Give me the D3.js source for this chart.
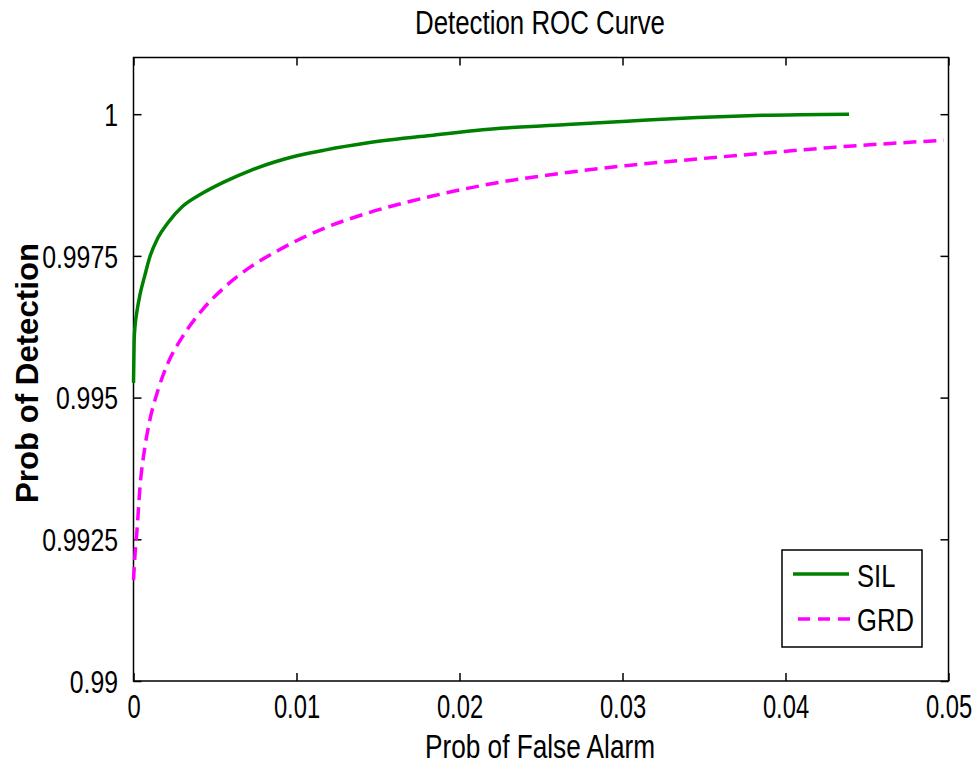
<!DOCTYPE html>
<html>
<head>
<meta charset="utf-8">
<script src="https://cdn.jsdelivr.net/npm/d3@7"></script>
<style>
  html, body { margin: 0; padding: 0; background: #fff; }
  svg { display: block; font-family: "Liberation Sans", Arial, sans-serif; }
</style>
</head>
<body>
<svg id="chart" width="977" height="765"></svg>
<script>
// ---- data ----
const title = "Detection ROC Curve";
const xLabel = "Prob of False Alarm";
const yLabel = "Prob of Detection";
const xTicks = [0, 0.01, 0.02, 0.03, 0.04, 0.05];
const xTickLabels = ["0", "0.01", "0.02", "0.03", "0.04", "0.05"];
const yTicks = [0.99, 0.9925, 0.995, 0.9975, 1];
const yTickLabels = ["0.99", "0.9925", "0.995", "0.9975", "1"];
const seriesNames = ["SIL", "GRD"];

const silPfa = [0, 0.00004, 0.0001, 0.0002, 0.0004, 0.0007, 0.001, 0.0015, 0.0021, 0.003, 0.0042, 0.0056, 0.0072, 0.0087, 0.0101, 0.0118, 0.0143, 0.0184, 0.0225, 0.0266, 0.0305, 0.0346, 0.0386, 0.0439];
const silPd  = [0.99526, 0.99600, 0.99628, 0.99650, 0.99682, 0.99716, 0.99748, 0.99782, 0.99808, 0.99837, 0.9986, 0.99881, 0.99901, 0.99916, 0.99927, 0.99937, 0.99949, 0.99963, 0.99975, 0.99982, 0.99988, 0.99994, 0.99998, 1.0];

const grdPfa = [0, 0.0001, 0.0002, 0.0004, 0.0007, 0.001, 0.0015, 0.0021, 0.003, 0.0042, 0.0056, 0.0072, 0.0089, 0.0103, 0.0118, 0.0143, 0.0184, 0.0225, 0.0266, 0.0305, 0.0346, 0.0386, 0.0427, 0.0468, 0.0497];
const grdPd  = [0.99178, 0.99226, 0.99260, 0.99343, 0.99413, 0.9946, 0.99513, 0.9956, 0.99607, 0.99654, 0.99695, 0.99731, 0.9976, 0.99781, 0.99800, 0.99825, 0.99856, 0.99880, 0.99897, 0.9991, 0.99921, 0.99931, 0.99941, 0.99949, 0.99954];

// ---- layout ----
const svg = d3.select("#chart");
const L = 133.5, R = 948.5, T = 57.5, B = 681;
const x = d3.scaleLinear().domain([0, 0.05]).range([L, R]);
const y = d3.scaleLinear().domain([0.99, 1.001]).range([B, T]);

// frame
svg.append("rect").attr("x", L).attr("y", T).attr("width", R - L).attr("height", B - T)
  .attr("fill", "none").attr("stroke", "#000").attr("stroke-width", 1.5);

// axes
const gx = svg.append("g").attr("transform", `translate(0,${B})`)
  .call(d3.axisBottom(x).tickValues(xTicks).tickSize(-8).tickFormat((d, i) => xTickLabels[i]));
const gxt = svg.append("g").attr("transform", `translate(0,${T})`)
  .call(d3.axisTop(x).tickValues(xTicks).tickSize(-8).tickFormat(""));
const gy = svg.append("g").attr("transform", `translate(${L},0)`)
  .call(d3.axisLeft(y).tickValues(yTicks).tickSize(-8).tickFormat((d, i) => yTickLabels[i]));
const gyr = svg.append("g").attr("transform", `translate(${R},0)`)
  .call(d3.axisRight(y).tickValues(yTicks).tickSize(-8).tickFormat(""));

[gx, gxt, gy, gyr].forEach(g => {
  g.select(".domain").remove();
  g.selectAll(".tick line").attr("stroke", "#000").attr("stroke-width", 1.5);
});

gx.selectAll(".tick text")
  .attr("y", 37).attr("dy", null)
  .attr("font-size", 33).attr("fill", "#000")
  .attr("font-family", "Liberation Sans, Arial, sans-serif")
  .attr("transform", "scale(0.72,1)");

gy.selectAll(".tick text")
  .attr("x", -19.4).attr("dy", "0.36em")
  .attr("font-size", 31).attr("fill", "#000")
  .attr("font-family", "Liberation Sans, Arial, sans-serif")
  .attr("transform", "scale(0.8,1)");

// title and axis labels
svg.append("text").attr("x", 540).attr("y", 34).attr("text-anchor", "middle")
  .attr("font-size", 33).attr("textLength", 250).attr("lengthAdjust", "spacingAndGlyphs")
  .text(title);
svg.append("text").attr("x", 540).attr("y", 758).attr("text-anchor", "middle")
  .attr("font-size", 33).attr("textLength", 230).attr("lengthAdjust", "spacingAndGlyphs")
  .text(xLabel);
svg.append("text").attr("transform", "translate(38,373) rotate(-90)").attr("text-anchor", "middle")
  .attr("font-size", 32).attr("font-weight", "bold")
  .attr("textLength", 260).attr("lengthAdjust", "spacingAndGlyphs")
  .text(yLabel);

// curves
const line = d3.line().x(d => x(d[0])).y(d => y(d[1])).curve(d3.curveMonotoneX);
const silData = silPfa.map((v, i) => [v, silPd[i]]);
const grdData = grdPfa.map((v, i) => [v, grdPd[i]]);

svg.append("path").datum(grdData).attr("d", line)
  .attr("fill", "none").attr("stroke", "#ff00ff").attr("stroke-width", 3.5)
  .attr("stroke-dasharray", "13,7");
svg.append("path").datum(silData).attr("d", line)
  .attr("fill", "none").attr("stroke", "#008000").attr("stroke-width", 3.5);

// legend
const lg = svg.append("g");
lg.append("rect").attr("x", 782).attr("y", 550).attr("width", 140).attr("height", 97)
  .attr("fill", "#fff").attr("stroke", "#000").attr("stroke-width", 1.5);
lg.append("line").attr("x1", 793).attr("x2", 849).attr("y1", 574).attr("y2", 574)
  .attr("stroke", "#008000").attr("stroke-width", 3.5);
lg.append("line").attr("x1", 798).attr("x2", 850).attr("y1", 619).attr("y2", 619)
  .attr("stroke", "#ff00ff").attr("stroke-width", 3.5).attr("stroke-dasharray", "12,8");
lg.append("text").attr("transform", "translate(857,587) scale(0.8,1)")
  .attr("font-size", 32).text(seriesNames[0]);
lg.append("text").attr("transform", "translate(857,631) scale(0.8,1)")
  .attr("font-size", 32).text(seriesNames[1]);
</script>
</body>
</html>
